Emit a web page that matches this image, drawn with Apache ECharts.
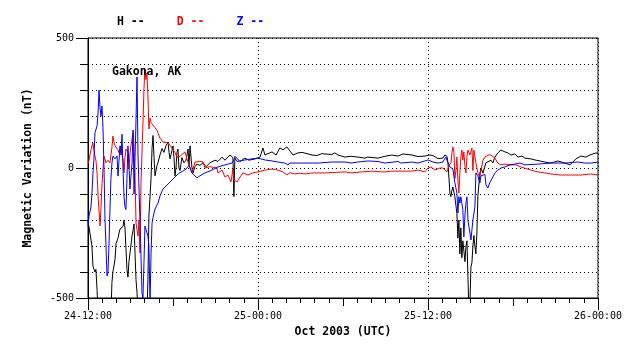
<!DOCTYPE html>
<html>
<head>
<meta charset="utf-8">
<title>Gakona, AK</title>
<script src="https://cdn.jsdelivr.net/npm/echarts@6/dist/echarts.min.js"></script>
<style>
    html, body { margin: 0; padding: 0; background: #fff; }
    #main { width: 638px; height: 359px; }
</style>
</head>
<body>
<div id="main"></div>
<script>
// hours after 24-12:00 UTC, value in nT
var xTickLabels = ['24-12:00', '25-00:00', '25-12:00', '26-00:00'];
var seriesNames = ['H', 'D', 'Z'];
var seriesColors = ['#000000', '#ff0000', '#0000ff'];

var hData = [
    [0, -205], [0.14, -250], [0.28, -300], [0.35, -378], [0.49, -400], [0.56, -390], [0.64, -470], [0.71, -560],
    [1.62, -560], [1.69, -440], [1.76, -400], [1.91, -350], [1.98, -290], [2.12, -270], [2.19, -250], [2.26, -235],
    [2.40, -240], [2.47, -225], [2.54, -200], [2.61, -230], [2.68, -310], [2.75, -390], [2.82, -420], [2.89, -360],
    [2.96, -330], [3.11, -260], [3.18, -240], [3.25, -215], [3.32, -330], [3.39, -430], [3.46, -480], [3.53, -560],
    [4.16, -560], [4.23, -430], [4.30, -185], [4.45, -40], [4.52, 75], [4.59, 125], [4.66, 40], [4.73, -30],
    [4.87, 10], [4.94, 20], [5.08, 50], [5.22, 75], [5.36, 60], [5.50, 85], [5.65, 100], [5.72, 60], [5.79, 35],
    [6.00, 85], [6.07, 40], [6.14, -30], [6.21, 0], [6.28, 60], [6.35, 73], [6.42, 0], [6.49, -10], [6.63, 40],
    [6.77, 20], [6.92, 30], [7.06, 73], [7.13, 10], [7.20, 85], [7.34, 0], [7.41, -20], [7.55, 5], [7.69, 15],
    [7.90, 10], [8.12, 20], [8.33, 5], [8.61, 20], [8.96, 30], [9.17, 25], [9.46, 42], [9.67, 30], [10.02, 50],
    [10.23, 40], [10.30, -110], [10.37, 45], [10.73, 25], [11.08, 38], [11.36, 30], [11.79, 35], [12.14, 42],
    [12.35, 77], [12.49, 50], [12.63, 55], [12.99, 62], [13.27, 50], [13.55, 77], [13.76, 70], [14.04, 81],
    [14.26, 65], [14.47, 50], [14.82, 58], [15.10, 60], [15.46, 55], [15.81, 50], [16.16, 48], [16.50, 55],
    [16.73, 54], [17.22, 52], [17.43, 58], [17.64, 50], [18.14, 42], [18.56, 45], [19.05, 42], [19.55, 38],
    [19.76, 42], [20.47, 38], [20.96, 45], [21.45, 50], [21.88, 46], [22.23, 54], [22.87, 50], [23.29, 44],
    [23.78, 46], [24.14, 50], [24.35, 48], [24.70, 36], [25.05, 38], [25.19, 50], [25.34, 45], [25.41, 20],
    [25.55, -100], [25.62, -110], [25.69, -85], [25.76, -73], [25.90, -112], [26.04, -175], [26.11, -270],
    [26.18, -200], [26.25, -330], [26.32, -230], [26.39, -345], [26.46, -280], [26.61, -360], [26.68, -300],
    [26.75, -280], [26.82, -420], [26.89, -560], [26.96, -520], [27.03, -380], [27.10, -365], [27.17, -300],
    [27.24, -260], [27.31, -300], [27.38, -330], [27.45, -250], [27.52, -110], [27.66, -20], [27.74, 0],
    [27.88, -20], [28.09, 20], [28.23, 25], [28.44, 30], [28.58, 20], [28.72, 42], [28.93, 58], [29.15, 69],
    [29.43, 62], [29.64, 58], [29.85, 50], [30.13, 54], [30.35, 42], [30.63, 46], [30.84, 38], [31.26, 35],
    [31.55, 31], [32.25, 23], [32.67, 19], [33.17, 27], [33.66, 19], [34.02, 12], [34.44, 35], [34.79, 46],
    [35.14, 42], [35.43, 50], [35.85, 58], [36, 56]
];

var dData = [
    [0, 15], [0.07, 30], [0.21, 70], [0.28, 85], [0.35, 96], [0.42, 70], [0.49, 46], [0.56, 30], [0.64, -20],
    [0.71, -108], [0.85, -223], [0.92, -150], [0.99, -60], [1.06, 0], [1.13, 46], [1.27, 20], [1.41, 30],
    [1.55, 20], [1.69, 80], [1.76, 123], [1.83, 100], [1.91, 85], [1.98, 85], [2.12, 70], [2.19, 58], [2.33, 85],
    [2.40, 50], [2.47, 35], [2.54, -19], [2.61, 40], [2.68, 73], [2.82, 60], [2.89, 0], [2.96, 50], [3.03, 85],
    [3.18, 135], [3.25, 85], [3.32, -30], [3.39, -212], [3.53, -262], [3.60, -200], [3.67, -327], [3.74, -60],
    [3.88, 173], [3.95, 304], [4.02, 381], [4.09, 340], [4.16, 365], [4.23, 277], [4.30, 150], [4.38, 192],
    [4.45, 175], [4.52, 180], [4.59, 165], [4.73, 158], [4.87, 145], [4.94, 135], [5.08, 115], [5.29, 100],
    [5.58, 98], [5.79, 88], [6.00, 70], [6.14, 60], [6.28, 42], [6.49, 45], [6.70, 55], [6.85, 62], [6.99, 35],
    [7.13, 10], [7.34, -19], [7.55, 23], [7.90, 25], [8.12, 23], [8.26, 0], [8.61, 5], [8.75, 3], [9.10, 0],
    [9.17, -19], [9.46, -8], [9.67, -35], [9.88, -27], [10.09, -54], [10.23, -4], [10.30, -46], [10.52, -54],
    [10.73, -35], [10.94, -19], [11.29, -27], [11.64, -19], [12.00, -15], [12.49, -8], [12.99, -4], [13.41, -8],
    [13.76, -15], [14.04, -27], [14.26, -18], [14.61, -23], [14.96, -20], [15.31, -23], [15.81, -19], [16.23, -19],
    [16.73, -19], [17.43, -17], [18.14, -15], [18.56, -19], [19.34, -15], [20.04, -12], [20.75, -15], [20.96, -15],
    [21.45, -12], [22.09, -12], [22.87, -12], [23.29, -8], [23.78, -15], [23.99, 0], [24.21, 4], [24.49, -8],
    [24.84, 0], [25.05, 0], [25.34, -15], [25.48, 10], [25.62, 19], [25.69, 58], [25.76, 81], [25.83, 60],
    [25.90, -40], [25.97, -10], [26.04, 42], [26.11, -46], [26.18, -96], [26.25, -20], [26.32, 42], [26.39, 69],
    [26.46, 30], [26.53, 62], [26.61, 5], [26.68, -19], [26.75, 45], [26.82, 69], [26.96, 50], [27.10, 77],
    [27.17, -10], [27.24, 69], [27.31, 75], [27.38, 20], [27.52, -19], [27.66, -35], [27.74, -10], [27.88, 30],
    [28.02, 42], [28.23, 50], [28.44, 50], [28.72, 38], [28.93, 19], [29.15, 12], [29.43, 15], [29.85, 12],
    [30.20, 12], [30.56, 4], [31.26, -8], [31.76, -15], [32.25, -19], [32.67, -23], [33.38, -27], [34.09, -27],
    [34.79, -27], [35.50, -23], [36, -27]
];

var zData = [
    [0, -223], [0.07, -185], [0.21, -150], [0.28, -96], [0.35, -20], [0.42, 35], [0.49, 135], [0.64, 162],
    [0.71, 212], [0.78, 300], [0.85, 230], [0.92, 200], [0.99, 238], [1.06, 150], [1.13, -4], [1.20, -200],
    [1.27, -300], [1.34, -415], [1.41, -400], [1.48, -300], [1.55, -158], [1.62, -40], [1.69, 19], [1.76, 46],
    [1.91, 35], [2.05, 46], [2.12, -31], [2.19, 30], [2.26, 85], [2.33, 50], [2.40, 130], [2.47, 0], [2.54, -108],
    [2.61, -150], [2.68, -160], [2.75, -40], [2.82, 85], [2.89, 20], [2.96, -81], [3.11, 20], [3.18, 146],
    [3.25, -100], [3.32, 40], [3.39, 188], [3.46, 350], [3.53, 50], [3.60, -80], [3.67, -209], [3.74, -338],
    [3.81, -480], [3.88, -500], [3.95, -365], [4.02, -223], [4.16, -230], [4.23, -262], [4.30, -300],
    [4.38, -520], [4.45, -330], [4.52, -212], [4.59, -190], [4.73, -158], [4.94, -135], [5.08, -108], [5.29, -81],
    [5.50, -69], [5.72, -58], [6.00, -42], [6.21, -31], [6.42, -20], [6.70, -12], [6.92, -4], [7.13, 10],
    [7.34, -19], [7.69, -38], [7.90, -30], [8.26, -19], [8.75, -8], [9.17, 4], [9.67, 12], [10.16, 19],
    [10.37, 38], [10.52, 25], [11.08, 31], [11.57, 35], [12.00, 38], [12.49, 31], [12.99, 27], [13.41, 23],
    [13.90, 19], [14.11, 12], [14.26, 19], [14.82, 19], [15.53, 19], [16.23, 19], [17.22, 23], [18.14, 23],
    [18.56, 19], [19.05, 23], [19.76, 27], [20.47, 25], [20.96, 19], [21.88, 25], [22.09, 19], [22.87, 23],
    [23.29, 19], [23.78, 27], [23.99, 31], [24.35, 23], [24.70, 19], [25.05, 23], [25.26, 42], [25.41, 20],
    [25.55, 4], [25.76, -4], [25.90, -58], [26.04, -96], [26.11, -173], [26.18, -110], [26.25, -135],
    [26.32, -111], [26.46, -160], [26.53, -265], [26.61, -180], [26.68, -135], [26.75, -111], [26.82, -200],
    [26.96, -250], [27.03, -277], [27.17, -200], [27.31, -150], [27.38, -19], [27.52, -30], [27.66, -58],
    [27.74, -30], [27.88, -35], [28.02, -25], [28.09, -65], [28.23, -77], [28.37, -55], [28.58, -35], [28.72, -19],
    [28.93, -8], [29.15, 0], [29.43, 4], [29.78, 12], [30.13, 15], [30.49, 19], [30.84, 12], [31.76, 15],
    [32.67, 19], [33.66, 19], [34.58, 23], [35.07, 19], [35.50, 19], [36, 23]
];

var seriesData = [hData, dData, zData];

var monoFont = '"DejaVu Sans Mono", "Liberation Mono", monospace';
var dotted = { color: '#000', width: 1, type: [1, 3] };

var myChart = echarts.init(document.getElementById('main'));

var option = {
    animation: false,
    backgroundColor: '#fff',
    title: {
        text: 'Gakona, AK',
        left: 112,
        top: 66,
        padding: 0,
        textStyle: { fontFamily: monoFont, fontSize: 11.5, fontWeight: 'bold', color: '#000' }
    },
    legend: {
        left: 112,
        top: 15,
        padding: 0,
        icon: 'none',
        itemWidth: 0,
        itemGap: 27,
        selectedMode: false,
        formatter: function (name) { return name + ' --'; },
        textStyle: { fontFamily: monoFont, fontSize: 11.5, fontWeight: 'bold' },
        data: seriesNames.map(function (n, i) {
            return { name: n, textStyle: { color: seriesColors[i] } };
        })
    },
    grid: {
        left: 88,
        top: 38,
        width: 510,
        height: 260,
        show: true,
        borderColor: '#000',
        borderWidth: 1,
        backgroundColor: 'transparent'
    },
    xAxis: [
        {
            type: 'value',
            min: 0,
            max: 36,
            interval: 12,
            name: 'Oct 2003 (UTC)',
            nameLocation: 'middle',
            nameGap: 22,
            nameTextStyle: { fontFamily: monoFont, fontSize: 11.5, fontWeight: 'bold', color: '#000' },
            axisLine: { onZero: false, lineStyle: { color: '#000', width: 1 } },
            axisTick: { inside: false, length: 12, lineStyle: { color: '#000' } },
            minorTick: { show: true, splitNumber: 12, length: 5, lineStyle: { color: '#000' } },
            axisLabel: {
                margin: 13,
                fontFamily: monoFont,
                fontSize: 10,
                color: '#000',
                formatter: function (v) { return xTickLabels[Math.round(v / 12)]; }
            },
            splitLine: { show: true, lineStyle: dotted }
        },
        {
            // 6-hour ticks
            type: 'value',
            min: 0,
            max: 36,
            interval: 6,
            position: 'bottom',
            axisLine: { show: false, onZero: false },
            axisTick: { inside: false, length: 8, lineStyle: { color: '#000' } },
            axisLabel: { show: false },
            splitLine: { show: false }
        }
    ],
    yAxis: {
        type: 'value',
        min: -500,
        max: 500,
        interval: 500,
        name: 'Magnetic Variation (nT)',
        nameLocation: 'middle',
        nameGap: 54,
        nameTextStyle: { fontFamily: monoFont, fontSize: 11.5, fontWeight: 'bold', color: '#000' },
        axisLine: { show: true, onZero: false, lineStyle: { color: '#000', width: 1 } },
        axisTick: { show: true, inside: false, length: 12, lineStyle: { color: '#000' } },
        minorTick: { show: true, splitNumber: 5, length: 8, lineStyle: { color: '#000' } },
        axisLabel: { margin: 14, fontFamily: monoFont, fontSize: 10, color: '#000' },
        splitLine: { show: true, lineStyle: dotted },
        minorSplitLine: { show: true, lineStyle: dotted }
    },
    series: seriesNames.map(function (n, i) {
        return {
            name: n,
            type: 'line',
            data: seriesData[i],
            showSymbol: false,
            symbol: 'none',
            clip: true,
            lineStyle: { color: seriesColors[i], width: 1 },
            itemStyle: { color: seriesColors[i] }
        };
    })
};

myChart.setOption(option);
</script>
</body>
</html>
